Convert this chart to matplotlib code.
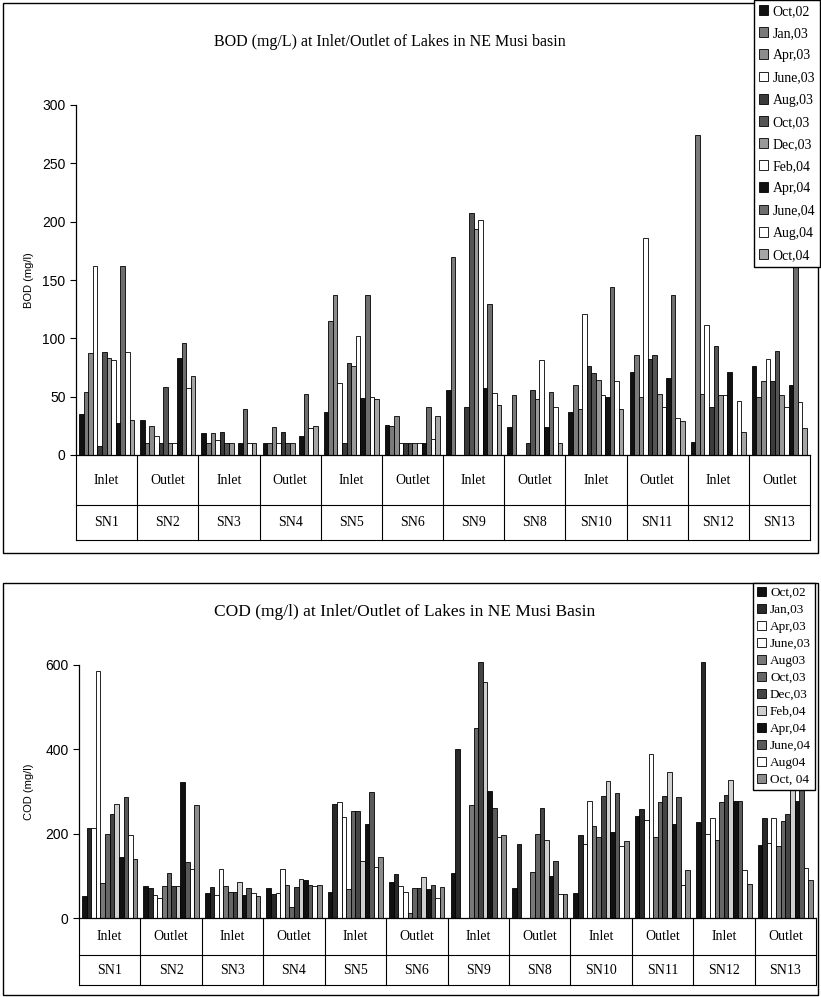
import matplotlib.pyplot as plt
from matplotlib.patches import Rectangle, Patch

sites = ["SN1", "SN2", "SN3", "SN4", "SN5", "SN6", "SN9", "SN8", "SN10", "SN11", "SN12", "SN13"]
positions = ["Inlet", "Outlet"] * 6

bod_dates = ["Oct,02", "Jan,03", "Apr,03", "June,03", "Aug,03", "Oct,03",
             "Dec,03", "Feb,04", "Apr,04", "June,04", "Aug,04", "Oct,04"]
cod_dates = ["Oct,02", "Jan,03", "Apr,03", "June,03", "Aug03", "Oct,03",
             "Dec,03", "Feb,04", "Apr,04", "June,04", "Aug04", "Oct, 04"]

# BOD (mg/l) per site, one value per sampling date
bod_sn1 = [35, 54, 87, 162, 8, 88, 83, 81, 27, 162, 88, 30]
bod_sn2 = [30, 10, 25, 16, 10, 58, 10, 10, 83, 96, 57, 68]
bod_sn3 = [19, 10, 19, 13, 20, 10, 10, 0, 10, 39, 10, 10]
bod_sn4 = [10, 10, 24, 10, 20, 10, 10, 0, 16, 52, 23, 25]
bod_sn5 = [37, 115, 137, 62, 10, 79, 76, 102, 49, 137, 50, 48]
bod_sn6 = [26, 25, 33, 10, 10, 10, 10, 10, 10, 41, 14, 33]
bod_sn9 = [56, 170, 0, 0, 41, 207, 194, 201, 57, 129, 53, 43]
bod_sn8 = [24, 51, 0, 0, 10, 56, 48, 81, 24, 54, 41, 10]
bod_sn10 = [37, 60, 39, 121, 76, 70, 64, 51, 50, 144, 63, 39]
bod_sn11 = [71, 86, 50, 186, 82, 86, 52, 41, 66, 137, 32, 29]
bod_sn12 = [11, 274, 52, 111, 41, 93, 51, 51, 71, 0, 46, 20]
bod_sn13 = [76, 50, 63, 82, 63, 89, 51, 41, 60, 210, 45, 23]

# COD (mg/l) per site
cod_sn1 = [52, 214, 214, 586, 84, 200, 246, 271, 145, 287, 198, 141]
cod_sn2 = [75, 71, 54, 47, 75, 107, 77, 75, 323, 133, 117, 267]
cod_sn3 = [60, 73, 55, 117, 75, 62, 62, 85, 55, 71, 60, 51]
cod_sn4 = [71, 56, 60, 117, 79, 25, 73, 92, 91, 79, 75, 79]
cod_sn5 = [61, 270, 274, 239, 69, 253, 253, 134, 223, 298, 122, 145]
cod_sn6 = [85, 104, 77, 62, 13, 70, 70, 98, 69, 79, 47, 74]
cod_sn9 = [107, 401, 0, 0, 269, 451, 608, 559, 302, 261, 191, 198]
cod_sn8 = [70, 175, 0, 0, 108, 199, 262, 185, 100, 134, 58, 58]
cod_sn10 = [59, 198, 175, 277, 217, 191, 289, 326, 204, 296, 170, 183]
cod_sn11 = [241, 258, 233, 389, 192, 274, 289, 346, 224, 287, 79, 115]
cod_sn12 = [228, 607, 200, 236, 186, 275, 292, 328, 278, 278, 115, 81]
cod_sn13 = [174, 236, 178, 236, 170, 231, 247, 320, 278, 330, 119, 89]

bod_sites = [bod_sn1, bod_sn2, bod_sn3, bod_sn4, bod_sn5, bod_sn6,
             bod_sn9, bod_sn8, bod_sn10, bod_sn11, bod_sn12, bod_sn13]
cod_sites = [cod_sn1, cod_sn2, cod_sn3, cod_sn4, cod_sn5, cod_sn6,
             cod_sn9, cod_sn8, cod_sn10, cod_sn11, cod_sn12, cod_sn13]

bod_colors = ["#111111", "#7a7a7a", "#8c8c8c", "#ffffff", "#3a3a3a", "#555555",
              "#999999", "#ffffff", "#111111", "#6e6e6e", "#ffffff", "#a5a5a5"]
cod_colors = ["#111111", "#2a2a2a", "#ffffff", "#ffffff", "#787878", "#666666",
              "#444444", "#cfcfcf", "#111111", "#5a5a5a", "#ffffff", "#8c8c8c"]

SERIF = "Liberation Serif"
SANS = "Liberation Sans"
W, H = 821, 997


def draw_bars(ax, site_values, colors):
    n_series = len(colors)
    gap = 0.1
    w = (1 - gap) / n_series
    for j in range(n_series):
        xs = [i - 0.5 + gap / 2 + w * (j + 0.5) for i in range(len(site_values))]
        vals = [v[j] for v in site_values]
        ax.bar(xs, vals, width=w, color=colors[j], edgecolor="black",
               linewidth=0.6, clip_on=False, zorder=2)


def draw_categories(ax, row1, row2):
    n = len(sites)
    trans = ax.get_xaxis_transform()
    for k in range(n + 1):
        ax.plot([k - 0.5, k - 0.5], [0, row2], transform=trans, color="black",
                lw=0.8, clip_on=False)
    for y in (row1, row2):
        ax.plot([-0.5, n - 0.5], [y, y], transform=trans, color="black",
                lw=0.8, clip_on=False)
    for i, (p, s) in enumerate(zip(positions, sites)):
        ax.text(i, row1 / 2, p, transform=trans, ha="center", va="center",
                fontsize=10, family=SERIF)
        ax.text(i, (row1 + row2) / 2, s, transform=trans, ha="center",
                va="center", fontsize=10, family=SERIF)


def style_axis(ax, ymax, step):
    ax.set_xlim(-0.5, len(sites) - 0.5)
    ax.set_ylim(0, ymax)
    ax.set_yticks(range(0, ymax + 1, step))
    ax.set_xticks([])
    for side in ("top", "right"):
        ax.spines[side].set_visible(False)
    ax.spines["left"].set_linewidth(0.9)
    ax.spines["bottom"].set_linewidth(0.9)
    ax.tick_params(axis="y", direction="out", length=4, labelsize=10)
    for lab in ax.get_yticklabels():
        lab.set_family(SANS)
    ax.patch.set_alpha(0)


fig = plt.figure(figsize=(W / 100, H / 100), dpi=100)

# chart borders
fig.patches.append(Rectangle((3 / W, 1 - 553 / H), 815 / W, 550 / H,
                             transform=fig.transFigure, fill=False,
                             edgecolor="black", lw=1.0))
fig.patches.append(Rectangle((3 / W, 1 - 995 / H), 815 / W, 412 / H,
                             transform=fig.transFigure, fill=False,
                             edgecolor="black", lw=1.0))

# BOD chart
ax1 = fig.add_axes([76 / W, 1 - 455 / H, 734 / W, 350 / H])
draw_bars(ax1, bod_sites, bod_colors)
style_axis(ax1, 300, 50)
draw_categories(ax1, -50 / 350, -85 / 350)
ax1.set_ylabel("BOD (mg/l)", fontsize=8, family=SANS, labelpad=6)
fig.text(390 / W, 1 - 42 / H, "BOD (mg/L) at Inlet/Outlet of Lakes in NE Musi basin",
         ha="center", va="center", fontsize=11.5, family=SERIF)

handles = [Patch(facecolor=c, edgecolor="black", lw=0.6) for c in bod_colors]
fig.legend(handles, bod_dates, loc="upper right", bbox_to_anchor=(820 / W, 1.0),
           prop={"family": SERIF, "size": 10}, frameon=True, fancybox=False,
           edgecolor="black", framealpha=1, handlelength=0.7, handleheight=0.7,
           handletextpad=0.3, labelspacing=0.66, borderpad=0.35, borderaxespad=0)

# COD chart
ax2 = fig.add_axes([79 / W, 1 - 918 / H, 737 / W, 253 / H])
draw_bars(ax2, cod_sites, cod_colors)
style_axis(ax2, 600, 200)
draw_categories(ax2, -37 / 253, -67 / 253)
ax2.set_ylabel("COD (mg/l)", fontsize=8, family=SANS, labelpad=8)
fig.text(405 / W, 1 - 612 / H, "COD (mg/l) at Inlet/Outlet of Lakes in NE Musi Basin",
         ha="center", va="center", fontsize=12.5, family=SERIF)

handles = [Patch(facecolor=c, edgecolor="black", lw=0.6) for c in cod_colors]
fig.legend(handles, cod_dates, loc="upper right", bbox_to_anchor=(815 / W, 1 - 583 / H),
           prop={"family": SERIF, "size": 9.5}, frameon=True, fancybox=False,
           edgecolor="black", framealpha=1, handlelength=0.7, handleheight=0.7,
           handletextpad=0.3, labelspacing=0.36, borderpad=0.3, borderaxespad=0)

fig.savefig("out.png", dpi=100)
